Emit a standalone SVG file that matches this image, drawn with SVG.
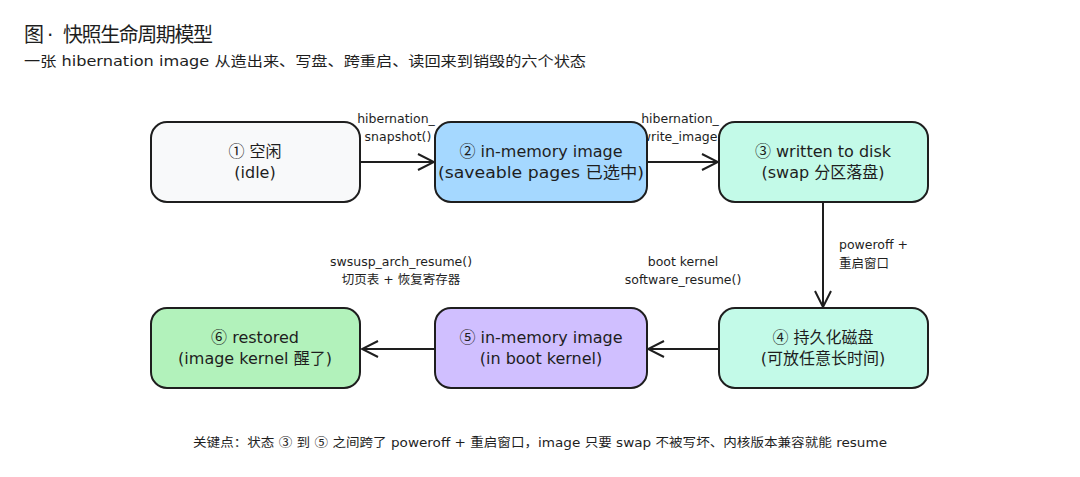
<svg xmlns="http://www.w3.org/2000/svg" width="1080" height="477" viewBox="0 0 1080 477">
<style>
text{font-family:"DejaVu Sans","Noto Sans CJK SC",sans-serif;fill:#1e1e1e}
.c{font-family:"Noto Sans CJK SC",sans-serif}
.node rect{stroke:#1e1e1e;stroke-width:2}
.nt{font-size:16px;text-anchor:middle}
.lbl{font-size:12.5px;text-anchor:middle}
.ls{font-size:12.5px}
.conn path{stroke:#1e1e1e;stroke-width:2;fill:none}
</style>
<defs>
<marker id="ah" viewBox="0 0 20 20" refX="18" refY="10" markerWidth="20" markerHeight="20" markerUnits="userSpaceOnUse" orient="auto">
<path d="M2,2 L18,10 L2,18" fill="none" stroke="#1e1e1e" stroke-width="2"/>
</marker>
</defs>
<rect width="1080" height="477" fill="#ffffff"/>
<text x="24" y="42" font-size="20">图<tspan x="47">·</tspan><tspan x="63" textLength="150" lengthAdjust="spacing">快照生命周期模型</tspan></text>
<text x="24" y="66" font-size="14" textLength="562" lengthAdjust="spacingAndGlyphs">一张 hibernation image 从造出来、写盘、跨重启、读回来到销毁的六个状态</text>

<g class="conn">
<path d="M359,162 L434,162" marker-end="url(#ah)"/>
<path d="M646,162 L718,162" marker-end="url(#ah)"/>
<path d="M823,202 L823,307" marker-end="url(#ah)"/>
<path d="M719,349 L648,349" marker-end="url(#ah)"/>
<path d="M435,349 L362,349" marker-end="url(#ah)"/>
</g>
<g id="labels">
<text class="lbl" x="396" y="123">hibernation_</text>
<text class="lbl" x="398" y="141">snapshot()</text>
<text class="lbl" x="680" y="123">hibernation_</text>
<text class="lbl" x="684" y="141">write_image()</text>
<text class="ls" x="839" y="249">poweroff +</text>
<text class="ls" x="839" y="268">重启窗口</text>
<text class="lbl" x="401" y="266">swsusp_arch_resume()</text>
<text class="lbl" x="401" y="284">切页表 + 恢复寄存器</text>
<text class="lbl" x="683" y="266">boot kernel</text>
<text class="lbl" x="683" y="284">software_resume()</text>
</g>

<g id="n1" class="node"><rect x="151" y="122" width="209" height="80" rx="16" fill="#f8f9fa"/>
<text class="nt" x="255" y="157"><tspan class="c">①</tspan> 空闲</text><text class="nt" x="255" y="178">(idle)</text></g>
<g id="n2" class="node"><rect x="435" y="122" width="212" height="80" rx="16" fill="#a5d8ff"/>
<text class="nt" x="541" y="157"><tspan class="c">②</tspan> in-memory image</text><text class="nt" x="541" y="178" textLength="206" lengthAdjust="spacingAndGlyphs">(saveable pages 已选中)</text></g>
<g id="n3" class="node"><rect x="719" y="122" width="209" height="80" rx="16" fill="#c3fae8"/>
<text class="nt" x="823" y="157"><tspan class="c">③</tspan> written to disk</text><text class="nt" x="823" y="178">(swap 分区落盘)</text></g>
<g id="n4" class="node"><rect x="719" y="308" width="209" height="80" rx="16" fill="#c3fae8"/>
<text class="nt" x="823" y="343"><tspan class="c">④</tspan> 持久化磁盘</text><text class="nt" x="823" y="364">(可放任意长时间)</text></g>
<g id="n5" class="node"><rect x="435" y="308" width="212" height="80" rx="16" fill="#d0bfff"/>
<text class="nt" x="541" y="343"><tspan class="c">⑤</tspan> in-memory image</text><text class="nt" x="541" y="364">(in boot kernel)</text></g>
<g id="n6" class="node"><rect x="151" y="308" width="209" height="80" rx="16" fill="#b2f2bb"/>
<text class="nt" x="255" y="343"><tspan class="c">⑥</tspan> restored</text><text class="nt" x="255" y="364">(image kernel 醒了)</text></g>

<text x="540" y="447" font-size="12.5" text-anchor="middle" textLength="694" lengthAdjust="spacingAndGlyphs">关键点：状态 <tspan class="c">③</tspan> 到 <tspan class="c">⑤</tspan> 之间跨了 poweroff + 重启窗口，image 只要 swap 不被写坏、内核版本兼容就能 resume</text>
</svg>
